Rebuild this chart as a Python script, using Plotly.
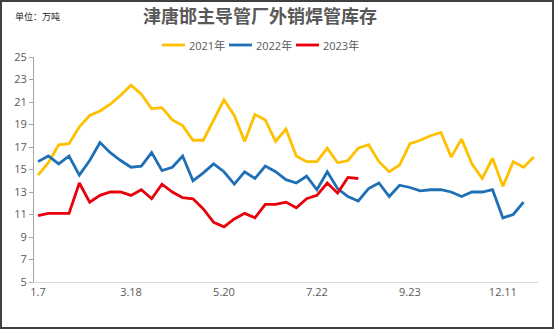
import plotly.graph_objects as go

W, H = 554, 329
ML, MR, MT, MB = 34, 16, 57, 47

# category index (weekly) and tick labels
tick_index = [0, 9, 18, 27, 36, 45]
tick_labels = ["1.7", "3.18", "5.20", "7.22", "9.23", "12.11"]

y2021 = [14.5, 15.6, 17.2, 17.3, 18.8, 19.8, 20.2, 20.8, 21.6, 22.5,
         21.7, 20.4, 20.5, 19.4, 18.9, 17.6, 17.6, 19.4, 21.2, 19.8,
         17.5, 19.9, 19.4, 17.5, 18.6, 16.2, 15.7, 15.7, 16.9, 15.6,
         15.8, 16.9, 17.2, 15.7, 14.8, 15.4, 17.3, 17.6, 18.0, 18.3,
         16.1, 17.7, 15.5, 14.2, 16.0, 13.5, 15.7, 15.2, 16.1]
y2022 = [15.7, 16.2, 15.5, 16.2, 14.5, 15.8, 17.4, 16.5, 15.8, 15.2,
         15.3, 16.5, 14.9, 15.2, 16.2, 14.0, 14.7, 15.5, 14.8, 13.7,
         14.8, 14.2, 15.3, 14.8, 14.1, 13.8, 14.4, 13.2, 14.8, 13.3,
         12.6, 12.2, 13.3, 13.8, 12.6, 13.6, 13.4, 13.1, 13.2, 13.2,
         13.0, 12.6, 13.0, 13.0, 13.2, 10.7, 11.0, 12.1]
y2023 = [10.9, 11.1, 11.1, 11.1, 13.8, 12.1, 12.7, 13.0, 13.0, 12.7,
         13.2, 12.4, 13.7, 13.0, 12.5, 12.4, 11.5, 10.3, 9.9, 10.6,
         11.1, 10.7, 11.9, 11.9, 12.1, 11.6, 12.4, 12.7, 13.8, 12.9,
         14.3, 14.2]

series_names = ["2021年", "2022年", "2023年"]
series_values = [y2021, y2022, y2023]
series_colors = ["#FFC000", "#1F6FB5", "#E8000B"]

pw = W - ML - MR
ph = H - MT - MB

def px_to_paper_x(px):
    return (px - ML) / pw

def px_to_paper_y(py):
    return (H - MB - py) / ph

fig = go.Figure()
for name, vals, color in zip(series_names, series_values, series_colors):
    fig.add_trace(go.Scatter(
        x=list(range(len(vals))), y=vals, mode="lines", name=name,
        line=dict(color=color, width=2.8)))

fig.update_layout(
    width=W, height=H,
    margin=dict(l=ML, r=MR, t=MT, b=MB),
    paper_bgcolor="#ffffff", plot_bgcolor="rgba(0,0,0,0)",
    font=dict(family="Noto Sans CJK SC, Open Sans, sans-serif", color="#595959", size=11),
    title=dict(text="<b>津唐邯主导管厂外销焊管库存</b>", x=260 / W, xanchor="center",
               y=1 - 17 / H, yanchor="middle",
               font=dict(size=18, color="#595959", family="Noto Sans CJK SC")),
    showlegend=False,
    xaxis=dict(range=[-0.39, 48.4], tickmode="array", tickvals=tick_index,
               ticktext=tick_labels, showgrid=False, zeroline=False,
               showline=True, linecolor="#D9D9D9", linewidth=1,
               ticks="", tickfont=dict(size=11, color="#595959", family="Open Sans")),
    yaxis=dict(range=[5, 25], dtick=2, tick0=5, showgrid=False, zeroline=False,
               showline=True, linecolor="#A6A6A6", linewidth=1,
               ticks="outside", ticklen=4, tickcolor="#A6A6A6",
               tickfont=dict(size=11, color="#595959", family="Open Sans")),
)

# manual legend
legend_line_x0 = [162, 229, 296]
for name, color, lx in zip(series_names, series_colors, legend_line_x0):
    fig.add_shape(type="line", xref="paper", yref="paper",
                  x0=px_to_paper_x(lx), x1=px_to_paper_x(lx + 23),
                  y0=px_to_paper_y(45), y1=px_to_paper_y(45),
                  line=dict(color=color, width=2.8))
    fig.add_annotation(text=name, xref="paper", yref="paper",
                       x=px_to_paper_x(lx + 25), y=px_to_paper_y(45),
                       xanchor="left", yanchor="middle", showarrow=False,
                       font=dict(size=11, color="#595959",
                                 family="Open Sans, Noto Sans CJK SC"))

fig.add_annotation(text="单位：万吨", xref="paper", yref="paper",
                   x=px_to_paper_x(13), y=px_to_paper_y(17),
                   xanchor="left", yanchor="middle", showarrow=False,
                   font=dict(size=9, color="#262626", family="Noto Sans CJK SC"))

fig.add_shape(type="rect", xref="paper", yref="paper",
              x0=px_to_paper_x(1), x1=px_to_paper_x(553),
              y0=px_to_paper_y(328), y1=px_to_paper_y(1),
              line=dict(color="#404040", width=2), layer="below")

fig.write_html("out.html")
